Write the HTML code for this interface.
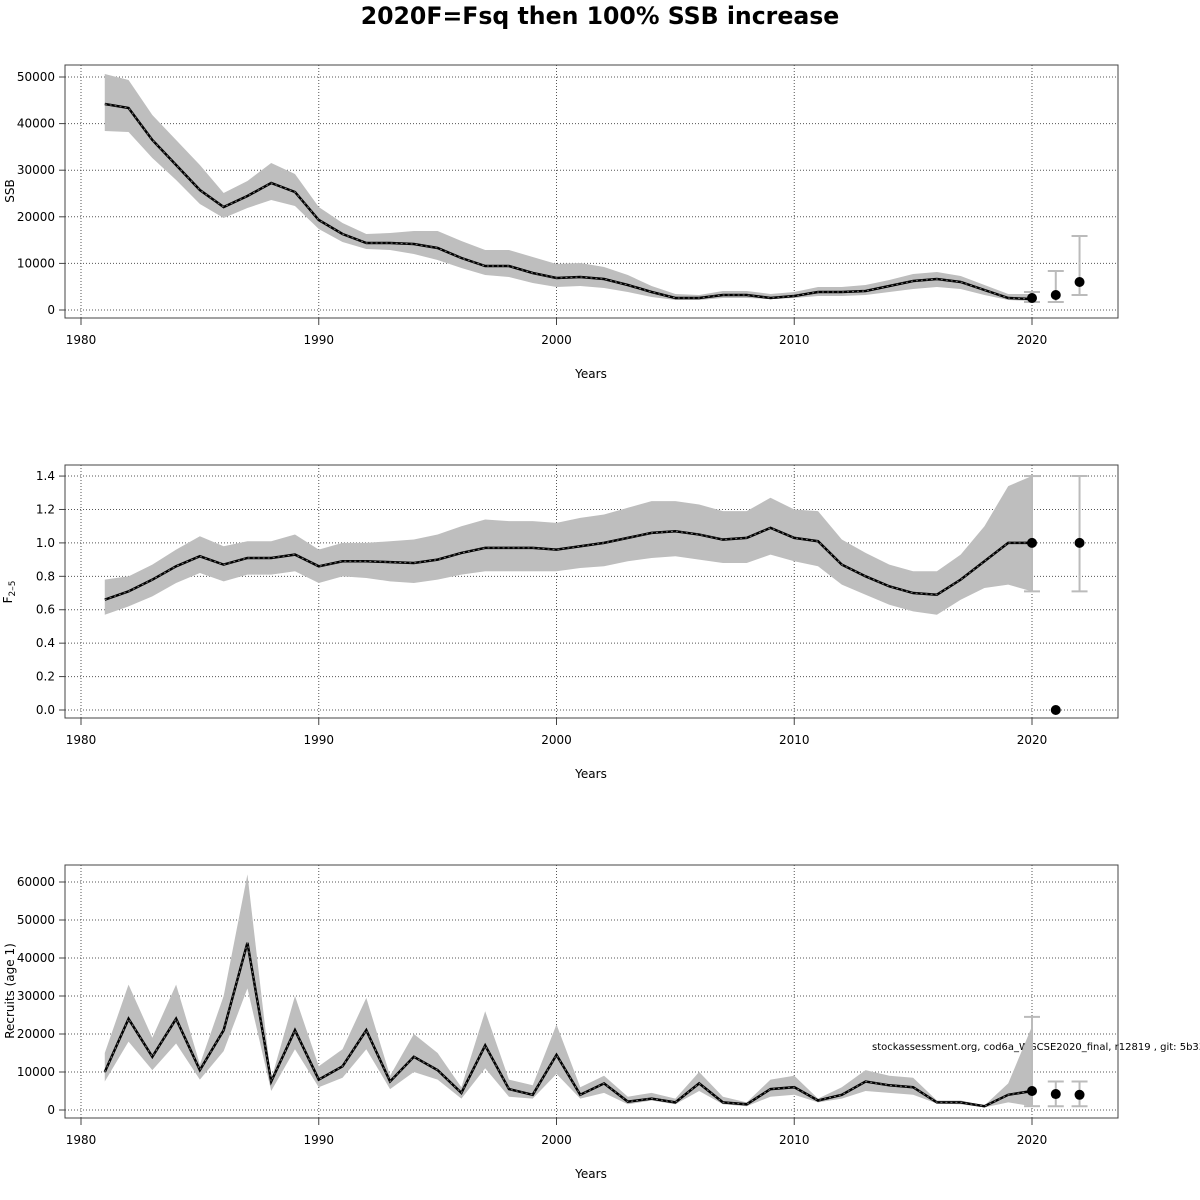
<!DOCTYPE html><html><head><meta charset="utf-8"><style>body{margin:0;background:#fff}svg{display:block;font-family:"DejaVu Sans","Liberation Sans",sans-serif}</style></head><body>
<svg id="s" width="1200" height="1200" xmlns="http://www.w3.org/2000/svg">
<text x="600" y="24" text-anchor="middle" font-size="23.6" font-weight="bold">2020F=Fsq then 100% SSB increase</text>
<text font-size="10" x="872" y="1050">stockassessment.org, cod6a_WGCSE2020_final, r12819 , git: 5b334</text>
</svg>
<script>
const S=document.getElementById('s'),NS='http://www.w3.org/2000/svg';
function el(t,a,txt){const e=document.createElementNS(NS,t);for(const k in a)e.setAttribute(k,a[k]);if(txt!==undefined)e.textContent=txt;S.appendChild(e);return e;}
const X=y=>81+(y-1980)*23.775;
const yrs=[];for(let y=1981;y<=2020;y++)yrs.push(y);
function panel(top,ymap,ticks,fmt,mean,up,lo,pts,label){
 const L=65,R=1118,T=top,B=top+253;
 for(const t of ticks)el('line',{x1:L,x2:R,y1:ymap(t),y2:ymap(t),stroke:'#555','stroke-dasharray':'1,2','stroke-width':1});
 for(let y=1980;y<=2020;y+=10)el('line',{x1:X(y),x2:X(y),y1:T,y2:B,stroke:'#555','stroke-dasharray':'1,2','stroke-width':1});
 let p=yrs.map((y,i)=>X(y)+','+ymap(up[i])).join(' ')+' '+yrs.slice().reverse().map((y,i)=>X(y)+','+ymap(lo[lo.length-1-i])).join(' ');
 el('polygon',{points:p,fill:'#bebebe'});
 el('polyline',{points:yrs.map((y,i)=>X(y)+','+ymap(mean[i])).join(' '),fill:'none',stroke:'#000','stroke-width':2.5});
 el('polyline',{points:yrs.map((y,i)=>X(y)+','+ymap(mean[i])).join(' '),fill:'none',stroke:'#777','stroke-width':1,'stroke-dasharray':'2,3'});
 for(const q of pts){
  if(q[2]!==undefined){const x=X(q[0]);el('line',{x1:x,x2:x,y1:ymap(q[2]),y2:ymap(q[3]),stroke:'#bbb','stroke-width':2});
   for(const v of [q[2],q[3]])el('line',{x1:x-8,x2:x+8,y1:ymap(v),y2:ymap(v),stroke:'#bbb','stroke-width':2});}
  el('circle',{cx:X(q[0]),cy:ymap(q[1]),r:5,fill:'#000'});
 }
 el('rect',{x:L,y:T,width:R-L,height:B-T,fill:'none',stroke:'#444','stroke-width':1});
 for(const t of ticks){el('line',{x1:L-6,x2:L,y1:ymap(t),y2:ymap(t),stroke:'#444'});el('text',{x:L-10,y:ymap(t)+4,'text-anchor':'end','font-size':12},fmt(t));}
 for(let y=1980;y<=2020;y+=10){el('line',{x1:X(y),x2:X(y),y1:B,y2:B+7,stroke:'#444'});el('text',{x:X(y),y:B+26,'text-anchor':'middle','font-size':12},y);}
 el('text',{x:591,y:B+60,'text-anchor':'middle','font-size':12},'Years');
 label();
}
const m1=[104,108,140,165,190,207,196,183,192,220,234,243,243,244,248,258,266,266,273,278,277,279,285,292,298,298,295,295,298,296,292,292,291,286,281,279,282,290,298,299];
const u1=[74,80,115,140,165,193,181,163,174,207,223,234,233,231,231,241,250,250,257,264,263,267,275,286,294,295,291,291,294,292,287,287,285,280,274,272,276,285,294,294];
const l1=[131,132,158,180,204,218,208,200,206,229,242,249,250,254,260,268,275,277,283,287,286,288,292,297,300,300,298,298,299,298,296,296,295,292,289,287,289,295,300,301];
const inv1=p=>(310-p)/46.6*10000;
const y1=v=>310-v/10000*46.6;
panel(65,y1,[0,10000,20000,30000,40000,50000],t=>t,m1.map(inv1),u1.map(inv1),l1.map(inv1),
 [[2020,inv1(298),inv1(292),inv1(302)],[2021,inv1(295),inv1(271),inv1(302)],[2022,inv1(282),inv1(236),inv1(295)]],
 ()=>el('text',{transform:'translate(14,191) rotate(-90)','text-anchor':'middle','font-size':12},'SSB'));
const m2=[0.66,0.71,0.78,0.86,0.92,0.87,0.91,0.91,0.93,0.86,0.89,0.89,0.885,0.88,0.90,0.94,0.97,0.97,0.97,0.96,0.98,1.0,1.03,1.06,1.07,1.05,1.02,1.03,1.09,1.03,1.01,0.87,0.80,0.74,0.70,0.69,0.78,0.89,1.0,1.0];
const u2=[0.78,0.80,0.87,0.96,1.04,0.98,1.01,1.01,1.05,0.96,1.0,1.0,1.01,1.02,1.05,1.10,1.14,1.13,1.13,1.12,1.15,1.17,1.21,1.25,1.25,1.23,1.19,1.19,1.27,1.2,1.19,1.02,0.94,0.87,0.83,0.83,0.93,1.1,1.34,1.4];
const l2=[0.57,0.62,0.68,0.76,0.82,0.77,0.81,0.81,0.83,0.76,0.8,0.79,0.77,0.76,0.78,0.81,0.83,0.83,0.83,0.83,0.85,0.86,0.89,0.91,0.92,0.90,0.88,0.88,0.93,0.89,0.86,0.75,0.69,0.63,0.59,0.57,0.66,0.73,0.75,0.71];
panel(465,v=>710-v*167.1,[0,0.2,0.4,0.6,0.8,1.0,1.2,1.4],t=>t.toFixed(1),m2,u2,l2,
 [[2020,1.0,0.71,1.4],[2021,0.0],[2022,1.0,0.71,1.4]],
 ()=>{const t=el('text',{transform:'translate(12,592) rotate(-90)','text-anchor':'middle','font-size':12});t.innerHTML='F<tspan font-size="9" dy="3">2–5</tspan>';});
const m3=[10,24,14,24,10.5,21,44,7.5,21,8,11.5,21,7.5,14,10.5,4.5,17,5.5,4,14.5,4,7,2.2,3,2,7,2,1.5,5.5,6,2.5,4,7.5,6.5,6,2,2,1,4,5];
const u3=[15,33,19,33,12,30,62,8,30,11.5,16,29.5,9,20,15,6,26,8,6.5,22.5,6,9,3.5,4.5,3,10,3.5,2,8,9,3,6,10.5,9,8.5,2.5,2.5,1.2,7,22];
const l3=[7.5,18,10.5,17.5,8,15.5,32,5,16,6,8.5,16,5.5,10,8,3,11,3.5,3,9.5,3,4.5,1.5,2.5,1.5,5,1.5,1,3.5,4,2,3,5,4.5,4,1.7,1.5,0.7,2,1];
const k=a=>a.map(v=>v*1000);
panel(865,v=>1110-v/10000*38,[0,10000,20000,30000,40000,50000,60000],t=>t,k(m3),k(u3),k(l3),
 [[2020,5000,1000,24500],[2021,4200,1000,7500],[2022,4000,1000,7500]],
 ()=>el('text',{transform:'translate(14,991) rotate(-90)','text-anchor':'middle','font-size':12},'Recruits (age 1)'));
</script>
</body></html>
